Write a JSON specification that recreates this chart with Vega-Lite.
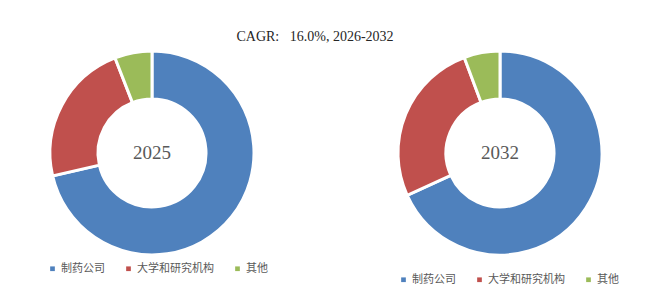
{
  "$schema": "https://vega.github.io/schema/vega-lite/v6.json",
  "padding": {"left": 5, "right": 5, "top": 30, "bottom": 5},
  "title": {"text": "CAGR:\u00a0\u00a0\u00a016.0%,\u00a02026-2032", "font": "Liberation Serif", "fontSize": 14, "fontWeight": "normal", "color": "#262626", "anchor": "middle", "offset": 1, "dx": -11},
  "datasets": {
    "d": [
      {"year": "2025", "category": "制药公司", "value": 71.4, "order": 1},
      {"year": "2025", "category": "大学和研究机构", "value": 22.7, "order": 2},
      {"year": "2025", "category": "其他", "value": 5.9, "order": 3},
      {"year": "2032", "category": "制药公司", "value": 68.2, "order": 1},
      {"year": "2032", "category": "大学和研究机构", "value": 26.1, "order": 2},
      {"year": "2032", "category": "其他", "value": 5.7, "order": 3}
    ]
  },
  "spacing": 54,
  "hconcat": [
    {
      "width": 294,
      "height": 210,
      "data": {"name": "d"},
      "transform": [{"filter": "datum.year == '2025'"}],
      "layer": [
        {
          "mark": {"type": "arc", "outerRadius": 102, "innerRadius": 54, "stroke": "white", "strokeWidth": 3},
          "encoding": {
            "theta": {"field": "value", "type": "quantitative", "stack": true},
            "order": {"field": "order", "type": "quantitative"},
            "color": {
              "field": "category", "type": "nominal",
              "scale": {"domain": ["制药公司", "大学和研究机构", "其他"], "range": ["#4F81BD", "#C0504D", "#9BBB59"]},
              "legend": {"orient": "none", "legendX": 42, "legendY": 215, "direction": "horizontal", "title": null}
            }
          }
        },
        {
          "transform": [{"filter": "datum.order == 1"}],
          "mark": {"type": "text", "font": "Liberation Serif", "fontSize": 19, "color": "#595959"},
          "encoding": {"text": {"field": "year", "type": "nominal"}}
        }
      ]
    },
    {
      "width": 294,
      "height": 210,
      "data": {"name": "d"},
      "transform": [{"filter": "datum.year == '2032'"}],
      "layer": [
        {
          "mark": {"type": "arc", "outerRadius": 102, "innerRadius": 54, "stroke": "white", "strokeWidth": 3},
          "encoding": {
            "theta": {"field": "value", "type": "quantitative", "stack": true},
            "order": {"field": "order", "type": "quantitative"},
            "color": {
              "field": "category", "type": "nominal",
              "scale": {"domain": ["制药公司", "大学和研究机构", "其他"], "range": ["#4F81BD", "#C0504D", "#9BBB59"]},
              "legend": {"orient": "none", "legendX": 45, "legendY": 226, "direction": "horizontal", "title": null}
            }
          }
        },
        {
          "transform": [{"filter": "datum.order == 1"}],
          "mark": {"type": "text", "font": "Liberation Serif", "fontSize": 19, "color": "#595959"},
          "encoding": {"text": {"field": "year", "type": "nominal"}}
        }
      ]
    }
  ],
  "resolve": {"scale": {"color": "independent"}, "legend": {"color": "independent"}},
  "config": {
    "view": {"stroke": null},
    "legend": {
      "symbolType": "square", "symbolSize": 22, "symbolStrokeWidth": 0,
      "labelFont": "Noto Sans CJK SC", "labelFontSize": 11, "labelColor": "#595959",
      "columnPadding": 18, "labelOffset": 3
    }
  }
}
